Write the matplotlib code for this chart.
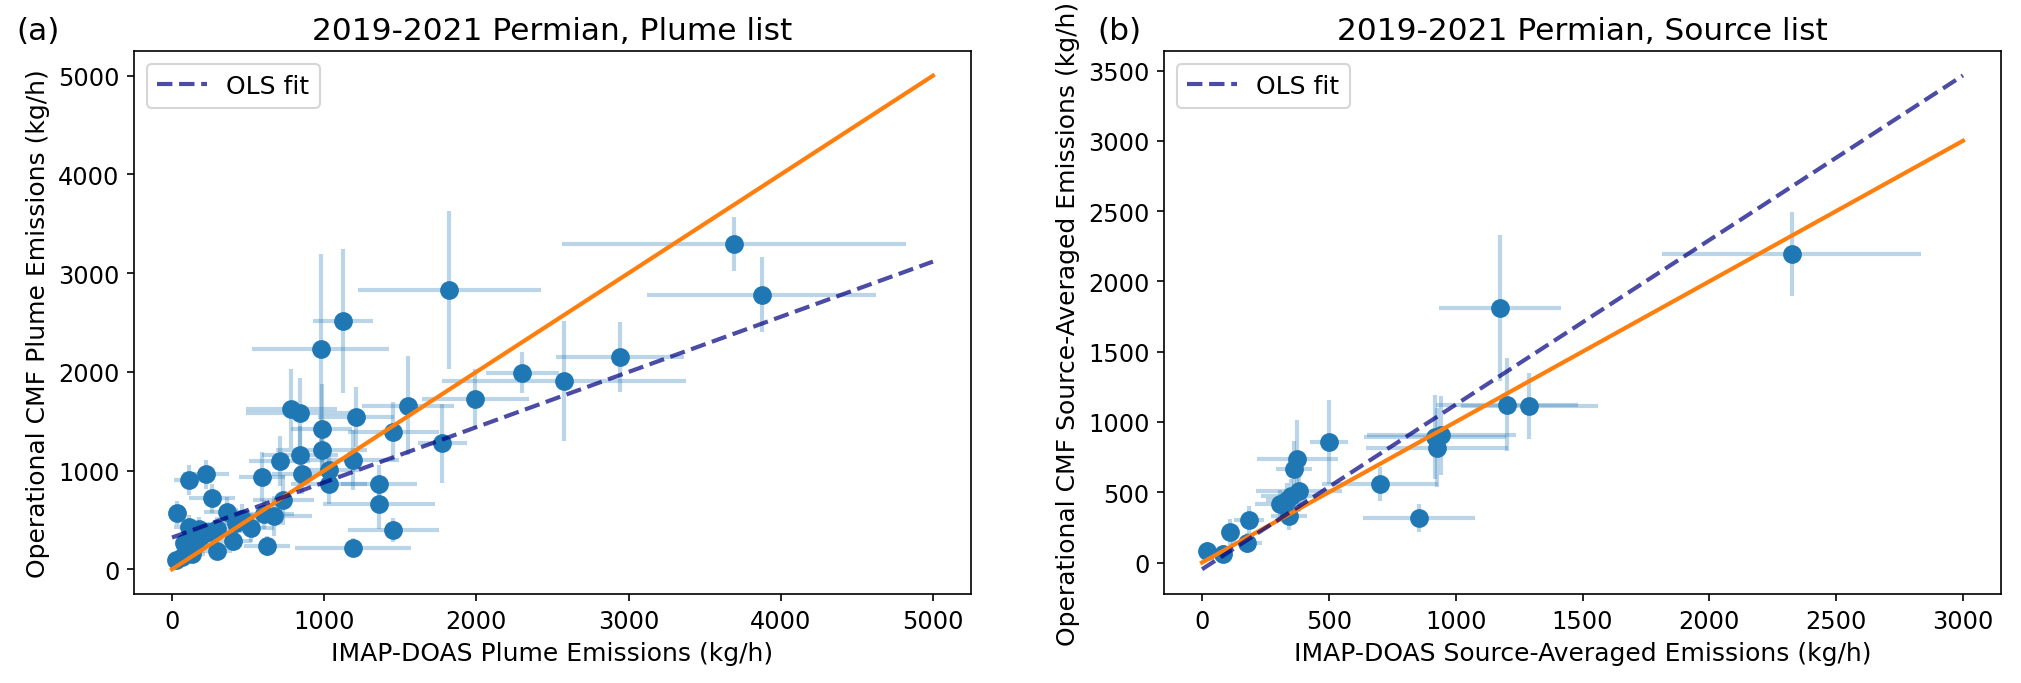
import numpy as np
import matplotlib
matplotlib.use("Agg")
import matplotlib.pyplot as plt

# Panel (a): plume list (kg/h)
plume_imap = [3693, 3874, 1823, 1123, 976, 2300, 2574, 2946, 1994, 1550,
              784, 838, 1206, 983, 1453, 1775, 983, 840, 707, 1191,
              1031, 221, 112, 593, 856, 1033, 1359, 261, 731, 1359,
              35, 359, 604, 670, 462, 517, 293, 178, 112, 1454,
              403, 79, 130, 150, 626, 1191, 293, 134, 24, 68,
              100, 190, 240, 420]
plume_cmf = [3293, 2779, 2834, 2513, 2236, 1993, 1908, 2151, 1729, 1658,
             1628, 1587, 1543, 1425, 1395, 1276, 1209, 1155, 1097, 1108,
             1010, 962, 905, 939, 962, 861, 861, 719, 702, 659,
             567, 581, 557, 540, 513, 422, 412, 405, 432, 395,
             287, 270, 330, 250, 236, 220, 186, 152, 94, 120,
             200, 340, 380, 470]
plume_imap_err = [1130, 750, 600, 200, 450, 240, 800, 420, 350, 300,
                  300, 350, 250, 200, 300, 160, 300, 250, 200, 300,
                  200, 150, 100, 150, 200, 250, 250, 150, 200, 370,
                  50, 150, 200, 250, 150, 150, 120, 100, 100, 300,
                  120, 60, 80, 80, 150, 380, 100, 80, 30, 40,
                  60, 90, 100, 150]
plume_cmf_err = [272, 380, 800, 730, 960, 210, 608, 350, 300, 500,
                 400, 350, 300, 450, 300, 400, 250, 300, 250, 300,
                 200, 150, 150, 250, 200, 200, 200, 150, 250, 250,
                 120, 150, 150, 200, 150, 150, 120, 120, 120, 120,
                 100, 100, 100, 80, 100, 100, 80, 80, 50, 60,
                 80, 100, 100, 150]
plume_fit = (0.559, 322)  # slope, intercept of OLS fit

# Panel (b): source-averaged list (kg/h)
source_imap = [21, 84, 110, 176, 186, 307, 334, 343, 351, 382,
               362, 375, 501, 701, 856, 918, 944, 925, 1204, 1290,
               1174, 2325]
source_cmf = [83, 64, 218, 140, 301, 419, 443, 332, 474, 507,
              668, 734, 858, 561, 317, 893, 905, 817, 1123, 1114,
              1812, 2196]
source_imap_err = [30, 40, 35, 60, 60, 100, 80, 70, 120, 170,
                   70, 160, 75, 230, 220, 280, 295, 280, 280, 270,
                   240, 510]
source_cmf_err = [60, 60, 95, 70, 100, 100, 120, 100, 120, 150,
                  200, 280, 300, 120, 100, 300, 280, 280, 330, 235,
                  520, 300]
source_fit = (1.171, -48)

panels = [
    dict(x=plume_imap, y=plume_cmf, xe=plume_imap_err, ye=plume_cmf_err, fit=plume_fit,
         lim=5000, xlim=(-250, 5250), ylim=(-250, 5250),
         title="2019-2021 Permian, Plume list", tag="(a)",
         xlabel="IMAP-DOAS Plume Emissions (kg/h)",
         ylabel="Operational CMF Plume Emissions (kg/h)"),
    dict(x=source_imap, y=source_cmf, xe=source_imap_err, ye=source_cmf_err, fit=source_fit,
         lim=3000, xlim=(-150, 3150), ylim=(-224, 3639),
         title="2019-2021 Permian, Source list", tag="(b)",
         xlabel="IMAP-DOAS Source-Averaged Emissions (kg/h)",
         ylabel="Operational CMF Source-Averaged Emissions (kg/h)"),
]

W, H, DPI = 2021, 684, 150
fig = plt.figure(figsize=(W / DPI, H / DPI), dpi=DPI)
lefts = [134, 1164]
tag_x = [16, 1097]

for p, left, tx in zip(panels, lefts, tag_x):
    ax = fig.add_axes([left / W, 1 - 595 / H, 837 / W, 543 / H])
    ax.errorbar(p["x"], p["y"], xerr=p["xe"], yerr=p["ye"], fmt="none",
                ecolor="tab:blue", alpha=0.3, elinewidth=2)
    ax.plot(p["x"], p["y"], "o", color="tab:blue", markersize=8)
    xs = np.array([0, p["lim"]])
    ax.plot(xs, xs, color="tab:orange", linewidth=2)
    slope, icpt = p["fit"]
    ax.plot(xs, slope * xs + icpt, "--", color="navy", alpha=0.7,
            linewidth=2, label="OLS fit")
    ax.set_xlim(*p["xlim"])
    ax.set_ylim(*p["ylim"])
    ax.set_title(p["title"], fontsize=15)
    ax.set_xlabel(p["xlabel"], fontsize=12)
    ax.set_ylabel(p["ylabel"], fontsize=12)
    ax.tick_params(labelsize=11.5)
    ax.legend(loc="upper left", fontsize=12)
    fig.text(tx / W, 1 - 40 / H, p["tag"], fontsize=15, va="baseline")

fig.savefig("out.png", dpi=DPI)
